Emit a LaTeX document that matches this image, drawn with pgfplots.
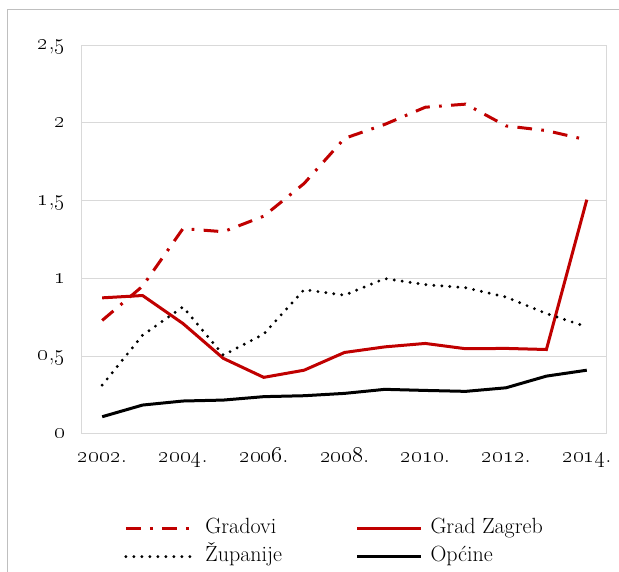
\documentclass[border=0pt]{standalone}
\usepackage{pgfplots}
\pgfplotsset{compat=1.18}
\definecolor{myred}{HTML}{C00000}
\definecolor{gridc}{HTML}{D9D9D9}
\definecolor{framec}{HTML}{BFBFBF}
\newcommand{\os}[1]{\oldstylenums{#1}}
\begin{document}
\begin{tikzpicture}[font=\fontsize{16}{19}\selectfont]
\useasboundingbox (0,0) rectangle (464.25pt,429pt);
\draw[framec, line width=0.75pt] (5.25pt,-20pt) -- (5.25pt,421.5pt) -- (480pt,421.5pt);
\begin{axis}[
  at={(61.5pt,103.5pt)}, anchor=south west,
  scale only axis, width=393.75pt, height=291.75pt,
  xmin=2001.5, xmax=2014.5, ymin=0, ymax=2.5,
  xtick={2002,2004,2006,2008,2010,2012,2014},
  xticklabels={\os{2002}., \os{2004}., \os{2006}., \os{2008}., \os{2010}., \os{2012}., \os{2014}.},
  ytick={0,0.5,1,1.5,2,2.5},
  yticklabels={\os{0},{\os{0},\os{5}},\os{1},{\os{1},\os{5}},\os{2},{\os{2},\os{5}}},
  major tick length=0pt,
  ymajorgrids, grid style={gridc, line width=0.75pt},
  axis line style={gridc, line width=0.75pt},
  tick label style={font=\fontsize{17}{20}\selectfont, text height=7pt, text depth=2pt},
  yticklabel style={xshift=-9pt, yshift=-1pt},
  xticklabel style={yshift=-11pt},
  legend columns=2,
  legend cell align=left,
  legend image code/.code={\draw[#1] (0pt,0pt) -- (48pt,0pt);},
  legend style={at={(axis description cs:0,0)}, anchor=north west,
    xshift=31.5pt, yshift=-63.75pt, draw=none, fill=none, inner sep=0pt,
    font=\fontsize{16.5}{19}\selectfont,
    nodes={inner sep=0pt, text height=11pt, text depth=3pt},
    row sep=7pt,
    /tikz/column 1/.style={column sep=10.5pt},
    /tikz/column 2/.style={column sep=55pt},
    /tikz/column 3/.style={column sep=6pt}},
]
\addplot[myred, line width=2.25pt, dash pattern=on 11pt off 7pt on 2pt off 7pt] coordinates {
(2002,0.73) (2003,0.95) (2004,1.32) (2005,1.30) (2006,1.40) (2007,1.61) (2008,1.90)
(2009,1.99) (2010,2.10) (2011,2.12) (2012,1.98) (2013,1.95) (2014,1.89)};
\addlegendentry{Gradovi}
\addplot[myred, line width=2.25pt] coordinates {
(2002,0.875) (2003,0.89) (2004,0.71) (2005,0.486) (2006,0.364) (2007,0.41) (2008,0.524)
(2009,0.56) (2010,0.582) (2011,0.548) (2012,0.55) (2013,0.543) (2014,1.506)};
\addlegendentry{Grad Zagreb}
\addplot[black, line width=2.4pt, line cap=round, dash pattern=on 0pt off 6pt] coordinates {
(2002,0.314) (2003,0.635) (2004,0.817) (2005,0.507) (2006,0.642) (2007,0.928) (2008,0.892)
(2009,0.999) (2010,0.96) (2011,0.94) (2012,0.88) (2013,0.774) (2014,0.689)};
\addlegendentry{Županije}
\addplot[black, line width=2.25pt] coordinates {
(2002,0.111) (2003,0.186) (2004,0.212) (2005,0.218) (2006,0.24) (2007,0.246) (2008,0.261)
(2009,0.287) (2010,0.28) (2011,0.274) (2012,0.297) (2013,0.372) (2014,0.41)};
\addlegendentry{Općine}
\end{axis}
\end{tikzpicture}
\end{document}
